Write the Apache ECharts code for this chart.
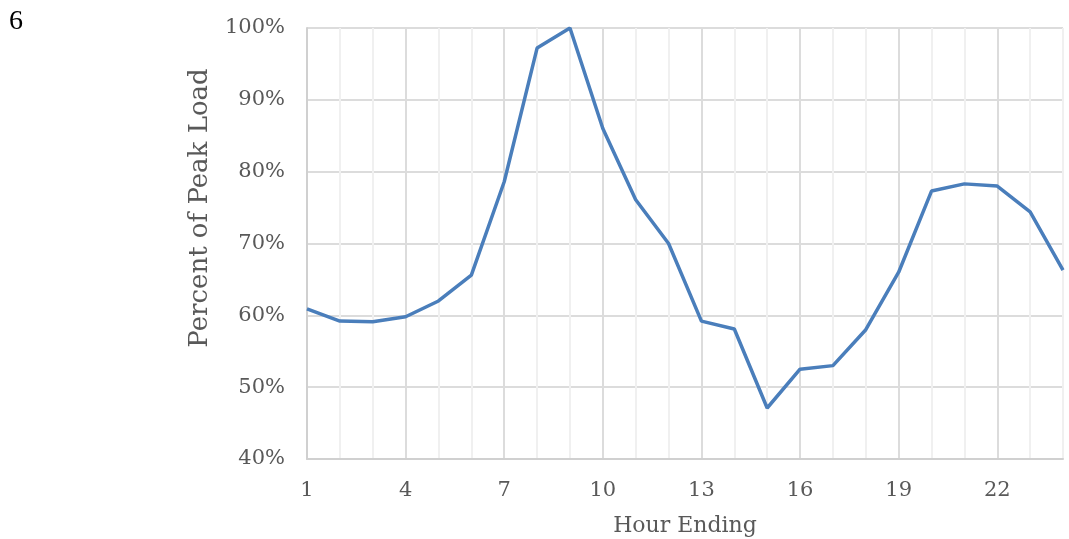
<!DOCTYPE html>
<html><head><meta charset="utf-8">
<script src="https://cdn.jsdelivr.net/npm/echarts@6/dist/echarts.min.js"></script>
<style>html,body{margin:0;padding:0;background:#fff}#c{width:1069px;height:539px}</style>
</head><body><div id="c"></div>
<script>
const hours = ['1','2','3','4','5','6','7','8','9','10','11','12','13','14','15','16','17','18','19','20','21','22','23','24'];
const percentOfPeak = [60.9,59.2,59.1,59.8,62.0,65.6,78.6,97.2,100,86.0,76.1,70.0,59.2,58.1,47.1,52.5,53.0,58.0,66.0,77.3,78.3,78.0,74.4,66.3];
const yTicks = {min:40, max:100, step:10};
const FONT = 'DejaVu Serif';
const chart = echarts.init(document.getElementById('c'), null, {renderer:'canvas'});
chart.setOption({
  animation:false,
  graphic:[
    {type:'text', x:9, y:8, style:{text:'6', fontSize:28, fontFamily:'Liberation Serif', fill:'#000'}},
    {type:'text', x:200, y:208, rotation:Math.PI/2, style:{text:'Percent of Peak Load', fontSize:26, fontFamily:FONT, fill:'#595959', align:'center', verticalAlign:'middle'}}
  ],
  grid:{left:307, right:6, top:28, bottom:80, containLabel:false, outerBoundsMode:'none'},
  xAxis:{type:'category', data:hours, boundaryGap:false,
    name:'Hour Ending', nameLocation:'middle', nameGap:56,
    nameTextStyle:{fontFamily:FONT, fontSize:22, color:'#595959'},
    axisLine:{lineStyle:{color:'#d0d0d0', width:2}}, axisTick:{show:false},
    axisLabel:{interval:2, margin:21, fontFamily:FONT, fontSize:21, color:'#595959'},
    splitLine:{show:true, interval:0, lineStyle:{color:['#dcdcdc','#f0f0f0','#f0f0f0'], width:2}}
  },
  yAxis:{type:'value', min:yTicks.min, max:yTicks.max, interval:yTicks.step,
    axisLine:{show:true, lineStyle:{color:'#d0d0d0', width:2}}, axisTick:{show:false},
    axisLabel:{margin:22, fontFamily:FONT, fontSize:21, color:'#595959', formatter:v=>v+'%'},
    splitLine:{lineStyle:{color:'#dcdcdc', width:2}}
  },
  series:[{type:'line', data:percentOfPeak, symbol:'none', lineStyle:{color:'#4a7ebb', width:3.5}}]
});
</script></body></html>
